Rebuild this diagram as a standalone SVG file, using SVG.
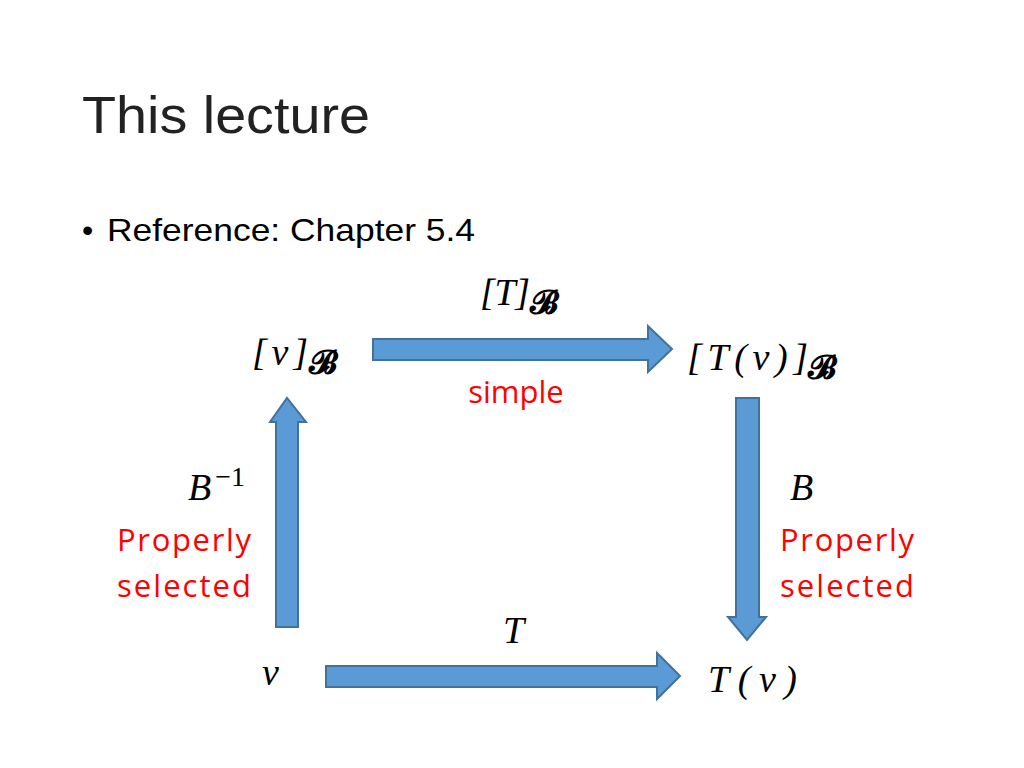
<svg xmlns="http://www.w3.org/2000/svg" width="1024" height="768" viewBox="0 0 1024 768">
<style>
.t{font-family:"Liberation Sans","Open Sans",sans-serif}
.m{font-family:"Liberation Serif","DejaVu Serif",serif;font-style:italic;font-size:38px;fill:#000}
.s{font-family:"DejaVu Serif",serif;font-style:normal;font-weight:bold;font-size:32px}
.r{font-family:"Open Sans","Liberation Sans",sans-serif;font-size:31px;fill:#FF0000;text-anchor:middle}
.a{fill:#5B9BD5;stroke:#41719C;stroke-width:2}
</style>
<rect width="1024" height="768" fill="#fff"/>
<text class="t" x="82" y="133" font-size="52" fill="#222" textLength="288" lengthAdjust="spacingAndGlyphs">This lecture</text>
<text class="t" x="82" y="241" font-size="32" fill="#000">•</text>
<text class="t" x="107" y="241" font-size="32" fill="#000" textLength="368" lengthAdjust="spacingAndGlyphs">Reference: Chapter 5.4</text>
<g id="connectors">
<path class="a" d="M373,339 H648 V326 L672,349 L648,372 V360 H373 Z"/>
<path class="a" d="M326,666 H657 V653 L680,676 L657,699 V687 H326 Z"/>
<path class="a" d="M276,627 V422 H270 L287,398 L306,422 H298 V627 Z"/>
<path class="a" d="M736,398 H759 V617 H766 L747,640 L728,617 H736 Z"/>
</g>
<g id="n1"><text class="m" x="252" y="365" textLength="56">[v]</text><text class="s" x="309" y="373">𝓑</text></g>
<g id="n2"><text class="m" x="687" y="370" textLength="121">[T(v)]</text><text class="s" x="808" y="378">𝓑</text></g>
<g id="n3"><text class="m" x="262" y="685">v</text></g>
<g id="n4"><text class="m" x="708" y="692" textLength="89">T(v)</text></g>
<g id="labels">
<text class="m" x="480" y="305" textLength="50">[T]</text><text class="s" x="530" y="313">𝓑</text>
<text class="r" x="516" y="403">simple</text>
<text class="m" x="188" y="500">B<tspan font-size="28" dy="-14" font-style="normal" dx="4">−1</tspan></text>
<text class="r" x="184" y="551" textLength="134">Properly</text>
<text class="r" x="184" y="597" textLength="134">selected</text>
<text class="m" x="790" y="500">B</text>
<text class="r" x="847" y="551" textLength="134">Properly</text>
<text class="r" x="847" y="597" textLength="134">selected</text>
<text class="m" x="503" y="643">T</text>
</g>
</svg>
